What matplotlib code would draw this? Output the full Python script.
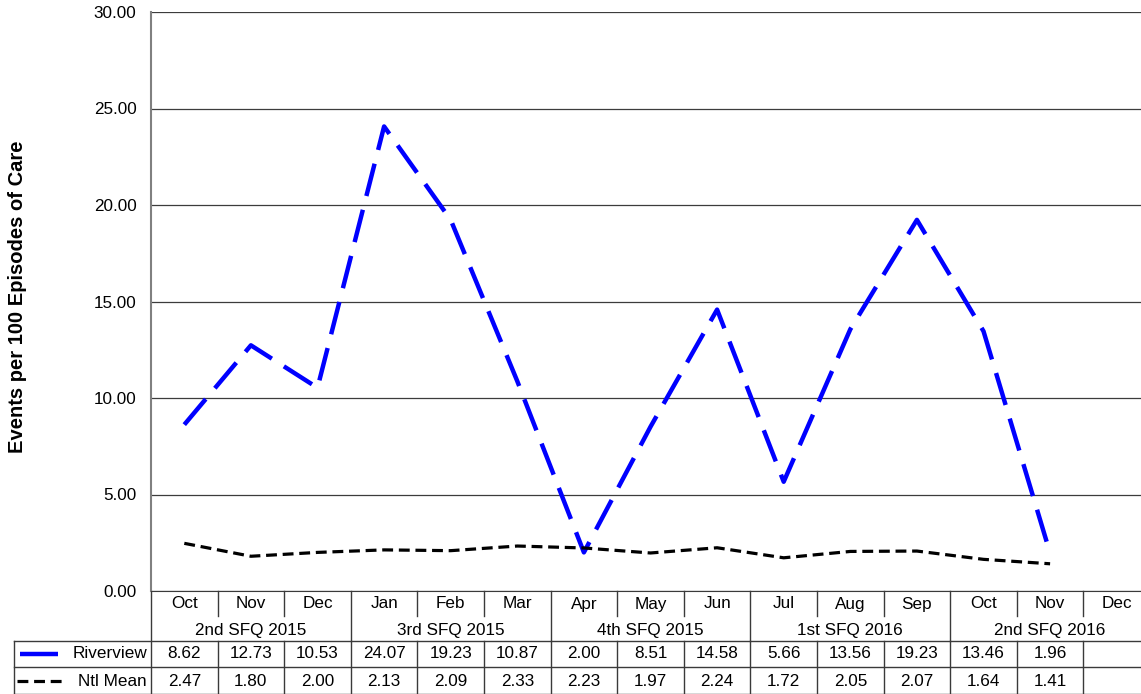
import numpy as np
from matplotlib import pyplot as plt
from matplotlib.lines import Line2D
from matplotlib.transforms import blended_transform_factory

plt.rcParams["font.family"] = ["Liberation Sans", "DejaVu Sans"]

months = ["Oct", "Nov", "Dec", "Jan", "Feb", "Mar", "Apr", "May", "Jun",
          "Jul", "Aug", "Sep", "Oct", "Nov", "Dec"]
quarters = ["2nd SFQ 2015", "3rd SFQ 2015", "4th SFQ 2015", "1st SFQ 2016", "2nd SFQ 2016"]
riverview = [8.62, 12.73, 10.53, 24.07, 19.23, 10.87, 2.00, 8.51, 14.58,
             5.66, 13.56, 19.23, 13.46, 1.96, np.nan]
ntl_mean = [2.47, 1.80, 2.00, 2.13, 2.09, 2.33, 2.23, 1.97, 2.24,
            1.72, 2.05, 2.07, 1.64, 1.41, np.nan]
y_ticks = [0, 5, 10, 15, 20, 25, 30]

W, H = 1141, 694
FS = 12.3
fig = plt.figure(figsize=(W / 100, H / 100), dpi=100)


def fy(py):
    # pixel row (from top) -> figure fraction
    return (H - py) / H


ax = fig.add_axes([151 / W, fy(591), (1150 - 151) / W, (591 - 12) / H])
x = np.arange(len(months))

ax.plot(x, riverview, color="#0000FF", lw=3.2, dashes=(7.5, 3.2), dash_capstyle="butt")
ax.plot(x, ntl_mean, color="black", lw=2.3, dashes=(3.4, 1.8), dash_capstyle="butt")

ax.set_xlim(-0.5, len(months) - 0.5)
ax.set_ylim(0, 30)
ax.set_yticks(y_ticks)
ax.set_yticklabels([f"{v:.2f}" for v in y_ticks], fontsize=FS)
ax.tick_params(axis="y", length=0, pad=10.5)
ax.set_xticks([])
ax.grid(axis="y", color="#3c3c3c", lw=0.9)
ax.set_axisbelow(True)
for side in ["top", "right"]:
    ax.spines[side].set_visible(False)
ax.spines["left"].set_color("#808080")
ax.spines["left"].set_linewidth(1.5)
ax.spines["bottom"].set_color("#3a3a3a")

fig.text(18 / W, fy(297), "Events per 100 Episodes of Care", rotation=90,
         ha="center", va="center", fontsize=14.5, fontweight="bold")

# data table below the axis, x in data units, y in figure fraction
tr = blended_transform_factory(ax.transData, fig.transFigure)
lc = "#3a3a3a"
kw = dict(transform=tr, color=lc, lw=1, clip_on=False)

for i, m in enumerate(months):
    fig.text(i, fy(604), m, transform=tr, ha="center", va="center", fontsize=FS)
for q, name in enumerate(quarters):
    fig.text(q * 3 + 1, fy(630), name, transform=tr, ha="center", va="center", fontsize=FS)
for i, (r, n) in enumerate(zip(riverview, ntl_mean)):
    if not np.isnan(r):
        fig.text(i, fy(654), f"{r:.2f}", transform=tr, ha="center", va="center", fontsize=FS)
    if not np.isnan(n):
        fig.text(i, fy(681), f"{n:.2f}", transform=tr, ha="center", va="center", fontsize=FS)

# column separators
for b in np.arange(0.5, len(months) - 0.5, 1.0):
    quarter_edge = (b + 0.5) % 3 == 0
    top = fy(591)
    ax.add_line(Line2D([b, b], [top, fy(616) if not quarter_edge else fy(641)], **kw))
    ax.add_line(Line2D([b, b], [fy(641), fy(694)], **kw))

# row lines spanning the legend column
left = ax.transData.inverted().transform((fig.transFigure.transform((14 / W, 0))[0], 0))[0]
for py in [641, 667, 693.5]:
    ax.add_line(Line2D([left, len(months) - 0.5], [fy(py), fy(py)], **kw))
ax.add_line(Line2D([left, left], [fy(641), fy(694)], **kw))
ax.add_line(Line2D([-0.5, -0.5], [fy(591), fy(694)], **kw))

# legend keys inside the table
fig.add_artist(Line2D([20 / W, 58 / W], [fy(654), fy(654)], color="#0000FF", lw=3.2,
                      solid_capstyle="butt"))
fig.add_artist(Line2D([17 / W, 66 / W], [fy(681), fy(681)], color="black", lw=2.3,
                      dashes=(3.4, 1.8), dash_capstyle="butt"))
fig.text(147 / W, fy(654), "Riverview", ha="right", va="center", fontsize=FS)
fig.text(147 / W, fy(681), "Ntl Mean", ha="right", va="center", fontsize=FS)

fig.savefig("out.png", dpi=100)
